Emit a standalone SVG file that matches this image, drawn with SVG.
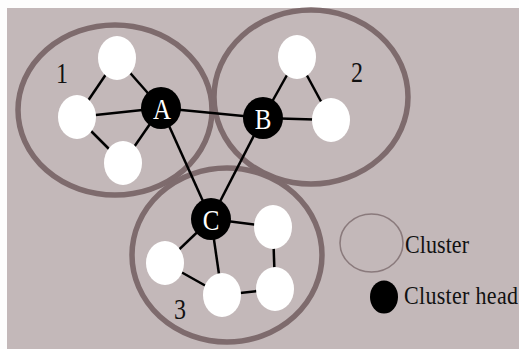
<svg xmlns="http://www.w3.org/2000/svg" width="519" height="349" viewBox="0 0 519 349">
<style>
.cl{fill:none;stroke:#7e6b6d;stroke-width:5.5}
.e{stroke:#000;stroke-width:2.5;fill:none}
.w{fill:#fff}
.h{fill:#000}
.hl{fill:#fff;font-family:"Liberation Serif",serif;font-size:25px;text-anchor:middle}
.t{fill:#111;font-family:"Liberation Serif",serif;font-size:22px}
.n{fill:#111;font-family:"Liberation Serif",serif;font-size:24px}
</style>
<rect x="0" y="0" width="519" height="349" fill="#fdfdfd"/>
<rect x="7" y="8" width="512" height="341" fill="#c3b8b9"/>
<g id="clusters">
<ellipse id="cluster1" class="cl" cx="115" cy="110" rx="97" ry="85"/>
<ellipse id="cluster2" class="cl" cx="311" cy="97" rx="97" ry="87"/>
<ellipse id="cluster3" class="cl" cx="227" cy="255" rx="95" ry="87"/>
</g>
<g id="connectors">
<line class="e" x1="117" y1="58" x2="161" y2="108"/>
<line class="e" x1="117" y1="58" x2="77" y2="117"/>
<line class="e" x1="77" y1="117" x2="161" y2="108"/>
<line class="e" x1="77" y1="117" x2="123" y2="163"/>
<line class="e" x1="123" y1="163" x2="161" y2="108"/>
<line class="e" x1="161" y1="108" x2="263" y2="118"/>
<line class="e" x1="161" y1="108" x2="211" y2="219"/>
<line class="e" x1="263" y1="118" x2="211" y2="219"/>
<line class="e" x1="263" y1="118" x2="297" y2="57"/>
<line class="e" x1="297" y1="57" x2="331" y2="120"/>
<line class="e" x1="263" y1="118" x2="331" y2="120"/>
<line class="e" x1="211" y1="219" x2="273" y2="227"/>
<line class="e" x1="211" y1="219" x2="165" y2="263"/>
<line class="e" x1="211" y1="219" x2="222" y2="295"/>
<line class="e" x1="165" y1="263" x2="222" y2="295"/>
<line class="e" x1="222" y1="295" x2="275" y2="289"/>
<line class="e" x1="273" y1="227" x2="275" y2="289"/>
</g>
<g id="n1a"><ellipse class="w" cx="117" cy="58" rx="19" ry="22"/></g>
<g id="n1b"><ellipse class="w" cx="77" cy="117" rx="19" ry="22"/></g>
<g id="n1c"><ellipse class="w" cx="123" cy="163" rx="19" ry="22"/></g>
<g id="n2a"><ellipse class="w" cx="297" cy="57" rx="19" ry="22"/></g>
<g id="n2b"><ellipse class="w" cx="331" cy="120" rx="19" ry="22"/></g>
<g id="n3a"><ellipse class="w" cx="273" cy="227" rx="19" ry="22"/></g>
<g id="n3b"><ellipse class="w" cx="165" cy="263" rx="19" ry="22"/></g>
<g id="n3c"><ellipse class="w" cx="222" cy="295" rx="19" ry="22"/></g>
<g id="n3d"><ellipse class="w" cx="275" cy="289" rx="19" ry="22"/></g>
<g id="A"><ellipse class="h" cx="161" cy="108" rx="20" ry="21"/><text class="hl" transform="translate(162,119) scale(1,1.2)">A</text></g>
<g id="B"><ellipse class="h" cx="263" cy="118" rx="20" ry="21"/><text class="hl" transform="translate(263,129) scale(1,1.2)">B</text></g>
<g id="C"><ellipse class="h" cx="211" cy="219" rx="20" ry="21"/><text class="hl" transform="translate(211,230) scale(1,1.2)">C</text></g>
<g id="labels">
<text class="n" transform="translate(56,83) scale(1,1.2)">1</text>
<text class="n" transform="translate(351,82) scale(1,1.2)">2</text>
<text class="n" transform="translate(174,319) scale(1,1.2)">3</text>
</g>
<g id="legend-cluster">
<ellipse cx="371.5" cy="243" rx="31.5" ry="29" fill="none" stroke="#8a7a7c" stroke-width="1.6"/>
<text class="t" transform="translate(405,253) scale(1,1.18)" textLength="64">Cluster</text>
</g>
<g id="legend-head">
<ellipse class="h" cx="384" cy="297" rx="14" ry="16.5"/>
<text class="t" transform="translate(404,304) scale(1,1.18)" textLength="114">Cluster head</text>
</g>
</svg>
